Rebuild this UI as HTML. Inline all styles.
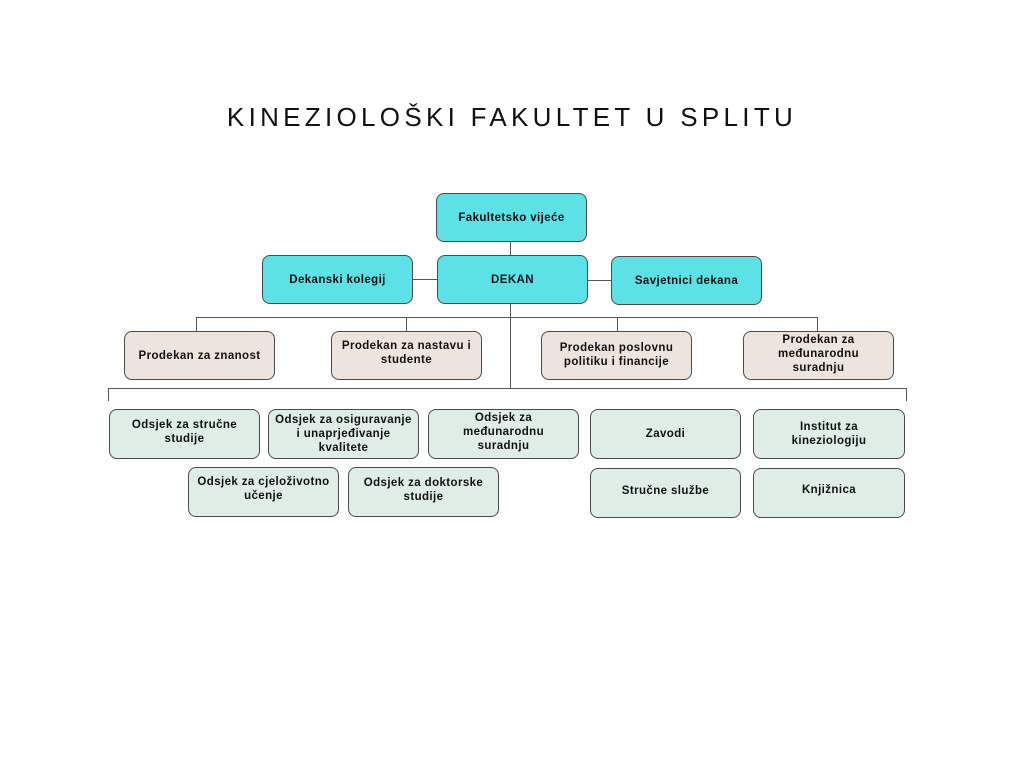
<!DOCTYPE html>
<html><head><meta charset="utf-8"><style>
body{margin:0;width:1024px;height:768px;background:#fff;position:relative;font-family:"Liberation Sans","DejaVu Sans",sans-serif;overflow:hidden}
.t{position:absolute;left:0;width:1024px;top:102px;text-align:center;font-size:26px;letter-spacing:4.3px;color:#111;font-weight:400}
.b{position:absolute;box-sizing:border-box;border:1.3px solid #4a4a4a;border-radius:8px;display:flex;align-items:center;justify-content:center;text-align:center;font-size:11.5px;font-weight:bold;color:#111;line-height:14px;letter-spacing:.4px;padding:0 2px;white-space:nowrap}
.c{background:#5ce1e6}.p{background:#ede4dd}.g{background:#deede6}
.l{position:absolute;background:#555}
</style></head><body>
<div class="t">KINEZIOLOŠKI FAKULTET U SPLITU</div>
<div class="l" style="left:510px;top:242px;width:1.3px;height:147px"></div>
<div class="l" style="left:413px;top:279px;width:24px;height:1.3px"></div>
<div class="l" style="left:588px;top:280px;width:23px;height:1.3px"></div>
<div class="l" style="left:196px;top:317px;width:621px;height:1.3px"></div>
<div class="l" style="left:196px;top:317px;width:1.3px;height:14px"></div>
<div class="l" style="left:406px;top:317px;width:1.3px;height:14px"></div>
<div class="l" style="left:617px;top:317px;width:1.3px;height:14px"></div>
<div class="l" style="left:817px;top:317px;width:1.3px;height:14px"></div>
<div class="l" style="left:108px;top:388px;width:799px;height:1.3px"></div>
<div class="l" style="left:108px;top:388px;width:1.3px;height:13px"></div>
<div class="l" style="left:906px;top:388px;width:1.3px;height:13px"></div>

<div class="b c" style="left:436px;top:193px;width:151px;height:49px">Fakultetsko vijeće</div>
<div class="b c" style="left:262px;top:255px;width:151px;height:49px">Dekanski kolegij</div>
<div class="b c" style="left:437px;top:255px;width:151px;height:49px">DEKAN</div>
<div class="b c" style="left:611px;top:256px;width:151px;height:49px">Savjetnici dekana</div>

<div class="b p" style="left:124px;top:331px;width:151px;height:49px">Prodekan za znanost</div>
<div class="b p" style="left:331px;top:331px;width:151px;height:49px;padding-bottom:6px">Prodekan za nastavu i<br>studente</div>
<div class="b p" style="left:541px;top:331px;width:151px;height:49px;padding-bottom:2px">Prodekan poslovnu<br>politiku i financije</div>
<div class="b p" style="left:743px;top:331px;width:151px;height:49px;padding-bottom:4px">Prodekan za<br>međunarodnu<br>suradnju</div>

<div class="b g" style="left:109px;top:409px;width:151px;height:50px;padding-bottom:4px">Odsjek za stručne<br>studije</div>
<div class="b g" style="left:268px;top:409px;width:151px;height:50px">Odsjek za osiguravanje<br>i unaprjeđivanje<br>kvalitete</div>
<div class="b g" style="left:428px;top:409px;width:151px;height:50px;padding-bottom:4px">Odsjek za<br>međunarodnu<br>suradnju</div>
<div class="b g" style="left:590px;top:409px;width:151px;height:50px">Zavodi</div>
<div class="b g" style="left:753px;top:409px;width:152px;height:50px">Institut za<br>kineziologiju</div>
<div class="b g" style="left:188px;top:467px;width:151px;height:50px;padding-bottom:6px">Odsjek za cjeloživotno<br>učenje</div>
<div class="b g" style="left:348px;top:467px;width:151px;height:50px;padding-bottom:4px">Odsjek za doktorske<br>studije</div>
<div class="b g" style="left:590px;top:468px;width:151px;height:50px;padding-bottom:4px">Stručne službe</div>
<div class="b g" style="left:753px;top:468px;width:152px;height:50px;padding-bottom:6px">Knjižnica</div>
</body></html>
